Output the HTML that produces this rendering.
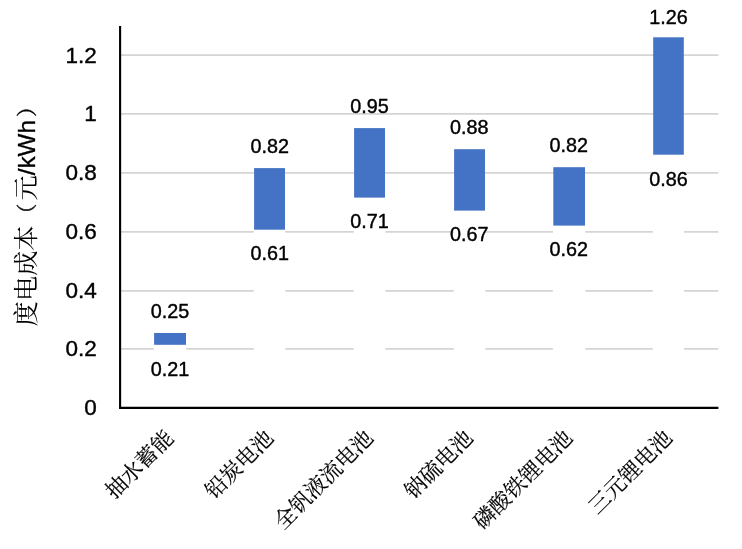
<!DOCTYPE html>
<html lang="zh-CN">
<head>
<meta charset="utf-8">
<title>度电成本</title>
<style>
html,body{margin:0;padding:0;background:#fff;}
body{width:742px;height:549px;overflow:hidden;}
svg{display:block;}
.num{font-family:"Liberation Sans","Noto Sans CJK SC",sans-serif;fill:#000;}
.cn{font-family:"Liberation Serif","Noto Serif CJK SC",serif;fill:#000;}
</style>
</head>
<body>
<svg width="742" height="549" viewBox="0 0 742 549">
<rect x="0" y="0" width="742" height="549" fill="#ffffff"/>
<g stroke="#d4d4d4" stroke-width="1.7">
<line x1="120.1" y1="348.85" x2="718.4" y2="348.85"/>
<line x1="120.1" y1="290.80" x2="718.4" y2="290.80"/>
<line x1="120.1" y1="231.90" x2="718.4" y2="231.90"/>
<line x1="120.1" y1="172.95" x2="718.4" y2="172.95"/>
<line x1="120.1" y1="113.85" x2="718.4" y2="113.85"/>
<line x1="120.1" y1="55.10" x2="718.4" y2="55.10"/>
</g>
<g>
<rect x="153.70" y="344.80" width="32.70" height="63.00" fill="#ffffff"/>
<rect x="154.10" y="333.00" width="31.90" height="11.80" fill="#4472c4"/>
<rect x="253.70" y="229.70" width="31.70" height="178.10" fill="#ffffff"/>
<rect x="254.10" y="168.10" width="30.90" height="61.60" fill="#4472c4"/>
<rect x="353.70" y="197.60" width="31.70" height="210.20" fill="#ffffff"/>
<rect x="354.10" y="128.10" width="30.90" height="69.50" fill="#4472c4"/>
<rect x="453.70" y="210.60" width="31.70" height="197.20" fill="#ffffff"/>
<rect x="454.10" y="149.20" width="30.90" height="61.40" fill="#4472c4"/>
<rect x="552.90" y="225.60" width="32.50" height="182.20" fill="#ffffff"/>
<rect x="553.30" y="167.20" width="31.70" height="58.40" fill="#4472c4"/>
<rect x="652.80" y="154.70" width="31.40" height="253.10" fill="#ffffff"/>
<rect x="653.20" y="37.30" width="30.60" height="117.40" fill="#4472c4"/>
</g>
<line x1="120.1" y1="26" x2="120.1" y2="408.90" stroke="#000" stroke-width="2.1"/>
<line x1="119.1" y1="407.8" x2="718.4" y2="407.8" stroke="#000" stroke-width="2.2"/>
<g class="num" font-size="22.5" text-anchor="end" stroke="#000" stroke-width="0.4">
<text x="96.8" y="415.10">0</text>
<text x="96.8" y="356.10">0.2</text>
<text x="96.8" y="297.60">0.4</text>
<text x="96.8" y="238.60">0.6</text>
<text x="96.8" y="179.70">0.8</text>
<text x="96.8" y="120.60">1</text>
<text x="96.8" y="62.60">1.2</text>
</g>
<g class="num" font-size="19.8" text-anchor="middle" stroke="#000" stroke-width="0.4">
<text x="170.05" y="317.70">0.25</text>
<text x="170.05" y="376.20">0.21</text>
<text x="269.75" y="152.80">0.82</text>
<text x="269.75" y="260.00">0.61</text>
<text x="369.45" y="112.80">0.95</text>
<text x="369.45" y="227.90">0.71</text>
<text x="469.15" y="133.90">0.88</text>
<text x="469.15" y="241.20">0.67</text>
<text x="568.85" y="151.90">0.82</text>
<text x="568.85" y="255.90">0.62</text>
<text x="668.55" y="23.90">1.26</text>
<text x="668.55" y="186.20">0.86</text>
</g>
<g class="cn" font-size="21.5" text-anchor="end" stroke="#000" stroke-width="0.15">
<text transform="translate(175.00,439.30) rotate(-45)">抽水蓄能</text>
<text transform="translate(274.70,439.30) rotate(-45)">铅炭电池</text>
<text transform="translate(374.40,439.30) rotate(-45)">全钒液流电池</text>
<text transform="translate(474.10,439.30) rotate(-45)">钠硫电池</text>
<text transform="translate(573.80,439.30) rotate(-45)">磷酸铁锂电池</text>
<text transform="translate(673.50,439.30) rotate(-45)">三元锂电池</text>
</g>
<text class="cn" font-size="25.2" text-anchor="start" transform="translate(34.6,326.2) rotate(-90)">度电成本<tspan font-size="20.6" dx="1.1" dy="-0.9" stroke="#000" stroke-width="0.4">（</tspan><tspan dy="0.9" dx="3.2">元</tspan><tspan class="num" font-size="24.3" stroke="#000" stroke-width="0.3">/kWh</tspan><tspan font-size="20.6" dy="-0.9" dx="3.0" stroke="#000" stroke-width="0.4">）</tspan></text>
</svg>
</body>
</html>
